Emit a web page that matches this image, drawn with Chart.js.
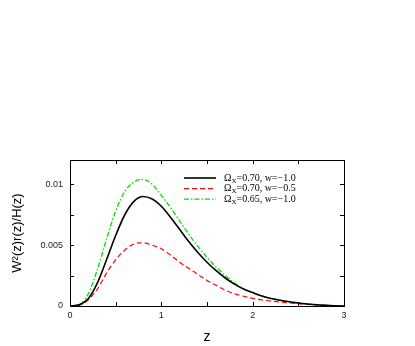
<!DOCTYPE html>
<html>
<head>
<meta charset="utf-8">
<script src="https://cdn.jsdelivr.net/npm/chart.js@4"></script>
<style>
  html, body { margin: 0; padding: 0; background: #fff; }
  #wrap { width: 415px; height: 346px; }
</style>
</head>
<body>
<div id="wrap"><canvas id="c" width="415" height="346"></canvas></div>
<script>
// ---------------- DATA ----------------
const zValues = [0, 0.1, 0.2, 0.3, 0.4, 0.5, 0.6, 0.7, 0.8, 0.9, 1.0, 1.1, 1.2, 1.3, 1.4, 1.5,
  1.6, 1.7, 1.8, 1.9, 2.0, 2.1, 2.2, 2.3, 2.4, 2.5, 2.6, 2.7, 2.8, 2.9, 3.0];

const blackSeries = [0, 0.0001, 0.0006, 0.0019, 0.0038, 0.0058, 0.0075, 0.0086, 0.0090, 0.0088,
  0.0082, 0.0073, 0.0063, 0.0053, 0.0044, 0.0036, 0.0029, 0.0023, 0.0018, 0.0014,
  0.0011, 0.00082, 0.00062, 0.00047, 0.00035, 0.00025, 0.00017, 0.0001, 0.00005, 0.00002, 0];

const redSeries = [0, 0.00005, 0.0005, 0.0014, 0.0027, 0.0038, 0.0046, 0.0051, 0.0052, 0.0050,
  0.0047, 0.0042, 0.0036, 0.0031, 0.0026, 0.0021, 0.0017, 0.0013, 0.0010, 0.0008,
  0.00063, 0.0005, 0.0004, 0.00033, 0.00026, 0.00019, 0.00013, 0.00008, 0.00004, 0.00001, 0];

const greenSeries = [0, 0.0001, 0.0010, 0.0030, 0.0055, 0.0078, 0.0094, 0.0102, 0.0104, 0.0100,
  0.0091, 0.0081, 0.0070, 0.0059, 0.0049, 0.0040, 0.0032, 0.0025, 0.0019, 0.0014,
  0.0011, 0.00083, 0.00063, 0.00048, 0.00036, 0.00026, 0.00018, 0.00011, 0.00006, 0.00002, 0];

const seriesLabels = ['ΩX=0.70, w=−1.0', 'ΩX=0.70, w=−0.5', 'ΩX=0.65, w=−1.0'];
const xTicks = [0, 0.5, 1, 1.5, 2, 2.5, 3];
const xTickLabels = ['0', '', '1', '', '2', '', '3'];
const yTicks = [0, 0.0025, 0.005, 0.0075, 0.01];
const yTickLabels = ['0', '', '0.005', '', '0.01'];

const toPoints = arr => zValues.map((z, i) => ({ x: z, y: arr[i] }));

// inward ticks on all four sides + box + legend (gnuplot look)
const framePlugin = {
  id: 'frame',
  afterDatasetsDraw(chart) {
    const ctx = chart.ctx;
    const a = chart.chartArea;
    const xs = chart.scales.x, ys = chart.scales.y;
    ctx.save();
    ctx.strokeStyle = '#000';
    ctx.lineWidth = 1;
    ctx.strokeRect(a.left + 0.5, a.top + 0.5, a.right - a.left, a.bottom - a.top);
    ctx.beginPath();
    xTicks.forEach(v => {
      const px = Math.round(xs.getPixelForValue(v)) + 0.5;
      ctx.moveTo(px, a.bottom); ctx.lineTo(px, a.bottom - 4);
      ctx.moveTo(px, a.top); ctx.lineTo(px, a.top + 4);
    });
    yTicks.forEach(v => {
      const py = Math.round(ys.getPixelForValue(v)) + 0.5;
      ctx.moveTo(a.left, py); ctx.lineTo(a.left + 4, py);
      ctx.moveTo(a.right, py); ctx.lineTo(a.right - 4, py);
    });
    ctx.stroke();

    // legend
    const x0 = a.left + 114, x1 = a.left + 146, tx = a.left + 154;
    chart.data.datasets.forEach((ds, i) => {
      const y = a.top + 18 + i * 10.6;
      ctx.strokeStyle = ds.borderColor;
      ctx.lineWidth = ds.borderWidth;
      ctx.setLineDash(ds.borderDash || []);
      ctx.beginPath(); ctx.moveTo(x0, y); ctx.lineTo(x1, y); ctx.stroke();
      ctx.setLineDash([]);
      ctx.fillStyle = '#000';
      ctx.textBaseline = 'middle';
      ctx.textAlign = 'left';
      const lbl = ds.label;
      ctx.font = '10px "Liberation Serif", serif';
      ctx.fillText(lbl[0], tx, y);
      let w = ctx.measureText(lbl[0]).width;
      ctx.font = '7px "Liberation Serif", serif';
      ctx.fillText(lbl[1], tx + w, y + 3);
      w += ctx.measureText(lbl[1]).width;
      ctx.font = '10px "Liberation Serif", serif';
      ctx.fillText(lbl.slice(2), tx + w, y);
    });
    ctx.restore();
  }
};

new Chart(document.getElementById('c').getContext('2d'), {
  type: 'line',
  data: {
    datasets: [
      { label: seriesLabels[0], data: toPoints(blackSeries), borderColor: '#000000', borderWidth: 1.6 },
      { label: seriesLabels[1], data: toPoints(redSeries), borderColor: '#ff0000', borderWidth: 1.2, borderDash: [5, 3] },
      { label: seriesLabels[2], data: toPoints(greenSeries), borderColor: '#00dd00', borderWidth: 1.3, borderDash: [5, 2, 1.5, 2] }
    ]
  },
  options: {
    responsive: false,
    animation: false,
    layout: { padding: { left: 10, right: 71, top: 160, bottom: 0 } },
    elements: { point: { radius: 0 }, line: { cubicInterpolationMode: 'monotone', fill: false } },
    plugins: { legend: { display: false }, tooltip: { enabled: false } },
    scales: {
      x: {
        type: 'linear', min: 0, max: 3,
        afterFit: s => { s.height = 40; },
        afterBuildTicks: s => { s.ticks = xTicks.map(v => ({ value: v })); },
        grid: { drawOnChartArea: false, drawTicks: false },
        border: { display: false },
        ticks: {
          padding: 4, color: '#222', font: { family: 'Liberation Sans', size: 9 },
          maxRotation: 0,
          callback: (v, i) => xTickLabels[i]
        },
        title: { display: true, text: 'z', color: '#000', font: { family: 'Liberation Sans', size: 14 }, padding: { top: -2, bottom: 0 } }
      },
      y: {
        type: 'linear', min: 0, max: 0.012,
        afterFit: s => { s.width = 60; },
        afterBuildTicks: s => { s.ticks = yTicks.map(v => ({ value: v })); },
        grid: { drawOnChartArea: false, drawTicks: false },
        border: { display: false },
        ticks: {
          padding: 7, color: '#222', font: { family: 'Liberation Sans', size: 9 },
          callback: (v, i) => yTickLabels[i]
        },
        title: { display: true, text: 'W²(z)r(z)/H(z)', color: '#000', font: { family: 'Liberation Sans', size: 13 }, padding: { top: 0, bottom: 0 } }
      }
    }
  },
  plugins: [framePlugin]
});
</script>
</body>
</html>
